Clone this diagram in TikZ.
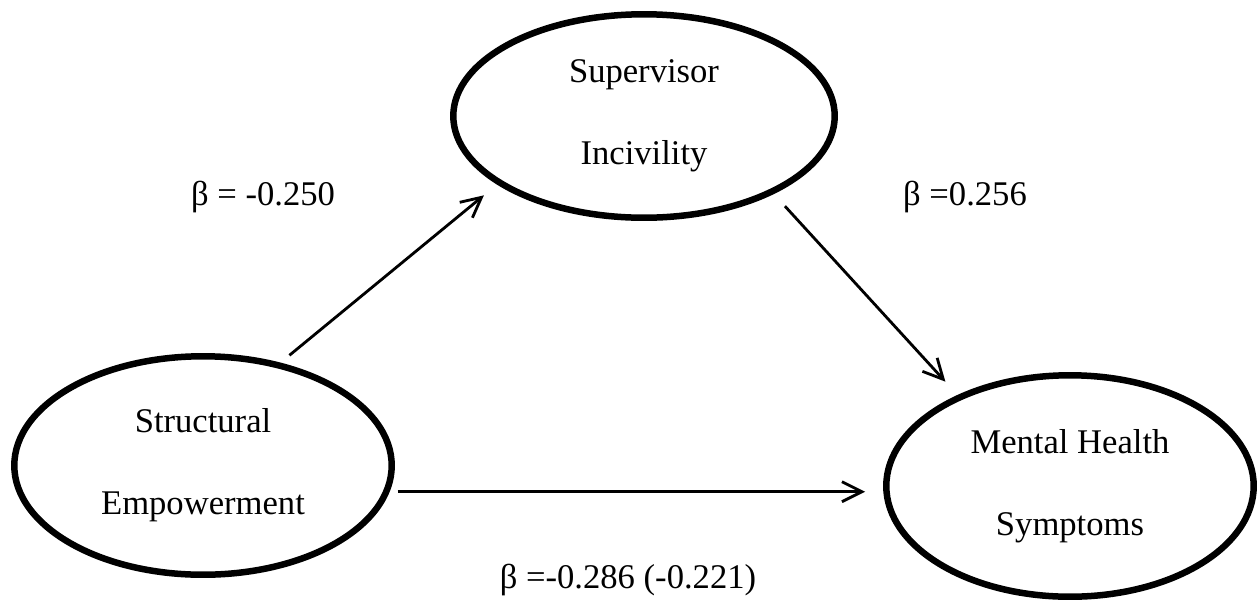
\documentclass[tikz,border=0pt]{standalone}
\usepackage{fontspec}
\setmainfont{Liberation Serif}
\usetikzlibrary{arrows.meta, shapes.geometric}

\begin{document}
\begin{tikzpicture}[x = 0.02cm, y = -0.02cm, > = {Straight Barb[length = 0.4cm, width = 0.4cm]}, font = \fontsize{19.7}{46.7}\selectfont]
\tikzset{
  construct/.style = {draw, ellipse, line width = 0.13cm, inner sep = 0pt, align = center},
  coef/.style = {anchor = base, inner sep = 0pt},
  effect/.style = {->, line width = 1.6pt},
}
\useasboundingbox (0,0) rectangle (1259,606);
\node [construct, minimum width = 7.55cm, minimum height = 4.37cm] (structuralEmpowerment) at (203,465.5) {Structural\\Empowerment};
\node [construct, minimum width = 7.63cm, minimum height = 4.07cm] (supervisorIncivility) at (644,116) {Supervisor\\Incivility};
\node [construct, minimum width = 7.35cm, minimum height = 4.43cm] (mentalHealth) at (1070,486) {Mental Health\\Symptoms};
\node [coef] (betaIncivility) at (263,205) {β = -0.250};
\node [coef] (betaSymptoms) at (965,205) {β =0.256};
\node [coef] (betaDirect) at (628,588) {β =-0.286 (-0.221)};
\draw [effect, shorten < = 0.23cm, shorten > = 0.34cm] (structuralEmpowerment.53.6) -- (supervisorIncivility.205.4);
\draw [effect, shorten < = 0.33cm, shorten > = 0.36cm] (supervisorIncivility.329.3) -- (mentalHealth.141.5);
\draw [effect, shorten < = 0.16cm, shorten > = 0.36cm] (structuralEmpowerment.-8.08) -- (structuralEmpowerment.-8.08 -| mentalHealth.west);
\end{tikzpicture}
\end{document}
